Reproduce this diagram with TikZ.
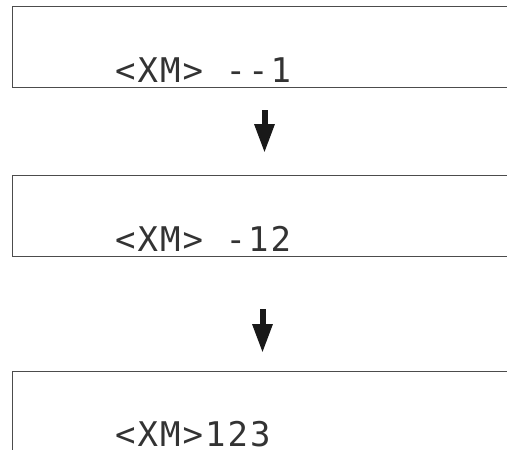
\documentclass[tikz,border=0pt]{standalone}
\usepackage{fontspec}
\usepackage{tikz}
\usetikzlibrary{arrows.meta}
\newfontfamily\lcdfont[LetterSpace=6]{DejaVu Sans Mono}

\tikzset{
  lcdbox/.style={draw=black!70,line width=1pt,minimum width=520pt,minimum height=81pt,inner sep=0pt,anchor=north west},
  lcdtext/.style={font=\lcdfont\fontsize{34}{34}\selectfont,text=black!80,inner sep=0pt,text depth=0pt,anchor=base west},
  flowarrow/.style={line width=6pt,black!90,-{Triangle[width=19pt,length=29pt]}}
}

\begin{document}
\begin{tikzpicture}[x=1pt,y=-1pt]
  \useasboundingbox (0,0) rectangle (507,450);
  \clip (0,0) rectangle (507,450);
  \node[lcdbox] (lcd1) at (12,6) {};
  \node[lcdbox] (lcd2) at (12,175) {};
  \node[lcdbox] (lcd3) at (12,371) {};
  \node[lcdtext] (txt1) at (115,82) {<XM> --1};
  \node[lcdtext] (txt2) at (115,251) {<XM> -12};
  \node[lcdtext] (txt3) at (115,446) {<XM>123};
  \draw[flowarrow,shorten <=22pt,shorten >=22pt] ([xshift=-8pt]lcd1.south) -- ([xshift=-8pt]lcd2.north);
  \draw[flowarrow,shorten <=52pt,shorten >=18pt] ([xshift=-10pt]lcd2.south) -- ([xshift=-10pt]lcd3.north);
\end{tikzpicture}
\end{document}
